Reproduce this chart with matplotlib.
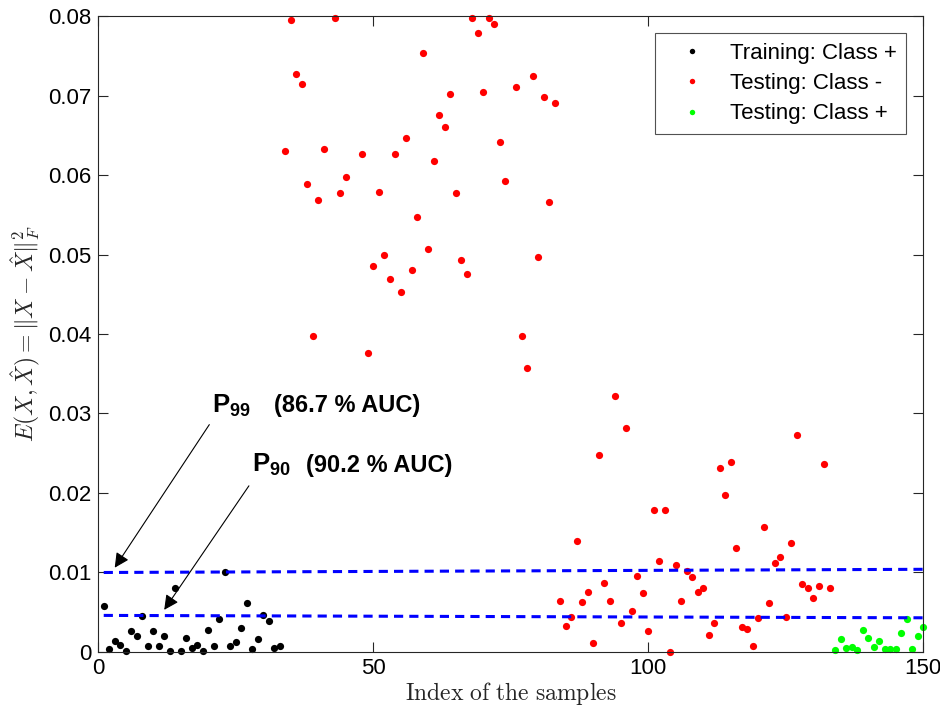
import numpy as np
import matplotlib
matplotlib.use("Agg")
import matplotlib.pyplot as plt

plt.rcParams['font.family'] = ['Liberation Sans', 'DejaVu Sans']
plt.rcParams['mathtext.fontset'] = 'cm'
plt.rcParams['mathtext.rm'] = 'Liberation Sans'
plt.rcParams['mathtext.bf'] = 'Liberation Sans:bold'
plt.rcParams['mathtext.it'] = 'Liberation Sans:italic'

# Training: Class + (indices 1..33)
train_idx = np.arange(1, 34)
train_err = [0.0058, 0.0004, 0.0014, 0.00085, 0.0001, 0.0026, 0.0020, 0.0045, 0.0007, 0.0026,
             0.0007, 0.0020, 0.0001, 0.0081, 0.0001, 0.0018, 0.0005, 0.00085, 0.0001, 0.0028,
             0.00076, 0.0042, 0.0100, 0.00076, 0.0012, 0.0030, 0.0061, 0.0004, 0.0016, 0.0046,
             0.0039, 0.00055, 0.0007]

# Testing: Class - (indices 34..133); nan = above the visible range
nan = np.nan
test_neg_idx = np.arange(34, 134)
test_neg_err = [0.0630, 0.0795, 0.0727, 0.0714, 0.0589, 0.0397, 0.0569, 0.0633, nan, 0.0797,
                0.0577, 0.0598, nan, nan, 0.0626, 0.0376, 0.0486, 0.0579, 0.0500, 0.0469,
                0.0627, 0.0453, 0.0647, 0.0481, 0.0547, 0.0753, 0.0507, 0.0618, 0.0675, 0.0661,
                0.0702, 0.0577, 0.0493, 0.0476, 0.0797, 0.0779, 0.0705, 0.0797, 0.0790, 0.0642,
                0.0592, nan, 0.0711, 0.0397, 0.0357, 0.0724, 0.0497, 0.0698, 0.0566, 0.0690,
                0.0064, 0.0033, 0.0044, 0.0140, 0.0063, 0.0076, 0.0011, 0.0248, 0.0087, 0.0064,
                0.0322, 0.0037, 0.0282, 0.0051, 0.0096, 0.0074, 0.0026, 0.0178, 0.0115, 0.0178,
                0.0000, 0.0109, 0.0064, 0.0102, 0.0094, 0.0076, 0.0080, 0.0021, 0.0036, 0.0231,
                0.0197, 0.0239, 0.0131, 0.0031, 0.0029, 0.0007, 0.0043, 0.0157, 0.0061, 0.0112,
                0.0120, 0.0044, 0.0137, 0.0273, 0.0086, 0.0081, 0.0068, 0.0083, 0.0237, 0.0081]

# Testing: Class + (indices 134..150)
test_pos_idx = np.arange(134, 151)
test_pos_err = [0.0002, 0.00168, 0.0005, 0.00067, 0.0002, 0.00273, 0.0018, 0.00063, 0.00138,
                0.00034, 0.00034, 0.00034, 0.00239, 0.00415, 0.00034, 0.00197, 0.00314]

# Threshold lines (start/end values)
thr_x = [1, 150]
p99_line = [0.0100, 0.0104]
p90_line = [0.0046, 0.0043]

fig = plt.figure(figsize=(9.4, 7.12), dpi=100)
ax = fig.add_axes([0.1045, 0.0843, 0.8775, 0.8932])

ms = 5.2
ax.plot(train_idx, train_err, 'o', color='k', ms=ms, mec='none', clip_on=False,
        label='Training: Class +')
ax.plot(test_neg_idx, test_neg_err, 'o', color=(1, 0, 0), ms=ms, mec='none', clip_on=False,
        label='Testing: Class -')
ax.plot(test_pos_idx, test_pos_err, 'o', color=(0, 1, 0), ms=ms, mec='none', clip_on=False,
        label='Testing: Class +')

ax.plot(thr_x, p99_line, color=(0, 0, 1), lw=2.2, dashes=(3, 2))
ax.plot(thr_x, p90_line, color=(0, 0, 1), lw=2.2, dashes=(3, 2))

ax.set_xlim(0, 150)
ax.set_ylim(0, 0.08)
ax.set_xticks([0, 50, 100, 150])
ax.set_yticks(np.arange(0, 0.081, 0.01))
ax.set_yticklabels(['0', '0.01', '0.02', '0.03', '0.04', '0.05', '0.06', '0.07', '0.08'])

axcol = (0.15, 0.15, 0.15)
for s in ax.spines.values():
    s.set_color(axcol)
    s.set_linewidth(0.8)
ax.tick_params(direction='in', top=True, right=True, length=7, width=0.8,
               colors=axcol, labelsize=16, labelcolor='k', pad=5)
ax.tick_params(axis='x', pad=4)

ax.set_xlabel(r'$\mathrm{Index\ of\ the\ samples}$', fontsize=17, color=axcol, labelpad=1,
              math_fontfamily='cm')
ax.set_ylabel(r'$E(X,\hat{X})=\Vert X-\hat{X}\Vert_F^2$', fontsize=17, color=axcol, labelpad=4,
              math_fontfamily='cm')

leg = ax.legend(loc='upper right', fontsize=16, frameon=True, fancybox=False,
                markerscale=0.75, handletextpad=0.5, borderpad=0.45, labelspacing=0.42,
                handlelength=2.4, borderaxespad=0.75)
leg.get_frame().set_edgecolor(axcol)
leg.get_frame().set_linewidth(0.8)

# annotations
ax.annotate('', xy=(3.0, 0.0106), xytext=(20.2, 0.0286),
            arrowprops=dict(arrowstyle='-|>', color='k', lw=0.8, mutation_scale=22,
                            shrinkA=0, shrinkB=0))
ax.annotate('', xy=(12.0, 0.0053), xytext=(27.4, 0.0209),
            arrowprops=dict(arrowstyle='-|>', color='k', lw=0.8, mutation_scale=22,
                            shrinkA=0, shrinkB=0))
ax.text(20.6, 0.0310, r'$\mathbf{P_{99}}$', fontsize=18.5,
        va='center', ha='left', math_fontfamily='custom')
ax.text(32.0, 0.0310, '(86.7 % AUC)', fontsize=17, fontweight='bold', va='center', ha='left')
ax.text(28.0, 0.0235, r'$\mathbf{P_{90}}$', fontsize=18.5,
        va='center', ha='left', math_fontfamily='custom')
ax.text(37.8, 0.0235, '(90.2 % AUC)', fontsize=17, fontweight='bold', va='center', ha='left')

fig.savefig('out.png', dpi=100)
